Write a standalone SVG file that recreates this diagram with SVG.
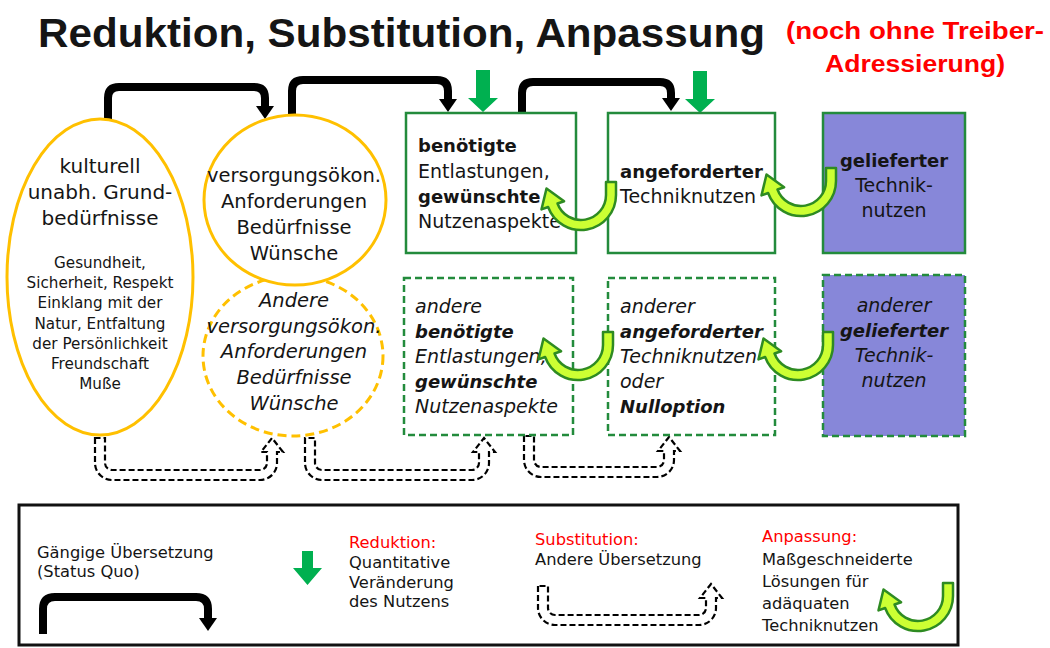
<svg xmlns="http://www.w3.org/2000/svg" width="1050" height="648" viewBox="0 0 1050 648">
<style>
text{font-family:"DejaVu Sans","Noto Sans",sans-serif;fill:#151515}
.t18{font-size:18px}
.t19{font-size:19px}
.t195{font-size:19.5px}
.t20{font-size:20px}
.t15{font-size:15.2px}
.t16{font-size:16.3px}
.b{font-weight:bold;font-size:18px}
.i{font-style:italic}
.c{text-anchor:middle}
.ell{fill:#fff;stroke:#ffc000;stroke-width:3}
.dash{stroke-dasharray:9 5}
.box{fill:#fff;stroke:#238b3c;stroke-width:2.5}
.pur{fill:#8787d9}
.bdash{stroke-dasharray:7 4}
.blk{fill:none;stroke:#000;stroke-width:8;stroke-linejoin:round}
.sub{fill:none;stroke:#000;stroke-width:2.2;stroke-dasharray:6 3}
.grn{fill:#00b050}
.uturn{fill:#ccff33;stroke:#2e8b22;stroke-width:2.5;stroke-linejoin:round}
</style>
<defs>
<marker id="ah" viewBox="0 -10 14 20" refX="1" refY="0" markerWidth="14" markerHeight="20" markerUnits="userSpaceOnUse" orient="auto">
<path d="M0,-9 L13,0 L0,9 Z" fill="#000"/>
</marker>
<path id="uarrow" d="M35,-13 L35,0 A35,35 0 0 1 -32.89,11.97 L-39.5,14.4 L-34.5,-6.5 L-16.9,6.2 L-23.49,8.55 A25,25 0 0 0 25,0 L25,-13 Z"/>
<path id="garrow" d="M-7,0 H7 V28 H15 L0,42 L-15,28 H-7 Z"/>
</defs>

<text x="38" y="47" font-size="41" font-weight="bold" textLength="727" lengthAdjust="spacingAndGlyphs" style="font-family:'Liberation Sans',sans-serif">Reduktion, Substitution, Anpassung</text>
<text x="915" y="39" class="c" font-size="23" font-weight="bold" textLength="258" lengthAdjust="spacingAndGlyphs" style="font-family:'Liberation Sans',sans-serif;fill:#ff0000">(noch ohne Treiber-</text>
<text x="915" y="72" class="c" font-size="23" font-weight="bold" textLength="180" lengthAdjust="spacingAndGlyphs" style="font-family:'Liberation Sans',sans-serif;fill:#ff0000">Adressierung)</text>

<g id="connectors">
<path class="blk" d="M108,122 V98 Q108,87 119,87 H254 Q265,87 265,98 V107" marker-end="url(#ah)"/>
<path class="blk" d="M292,117 V91 Q292,80 303,80 H437 Q448,80 448,91 V100" marker-end="url(#ah)"/>
<path class="blk" d="M522,114 V93 Q522,82 533,82 H660 Q671,82 671,93 V99" marker-end="url(#ah)"/>
<use href="#garrow" class="grn" x="483" y="70"/>
<use href="#garrow" class="grn" x="700" y="71"/>
<path class="sub" d="M95,438 V463 A17,17 0 0 0 112,480 H260 A17,17 0 0 0 277,463 V452 H283 L272,438 L261,452 H267 V463 A7,7 0 0 1 260,470 H112 A7,7 0 0 1 105,463 V438 Z"/>
<path class="sub" d="M305,438 V463 A17,17 0 0 0 322,480 H472 A17,17 0 0 0 489,463 V452 H495 L484,438 L473,452 H479 V463 A7,7 0 0 1 472,470 H322 A7,7 0 0 1 315,463 V438 Z"/>
<path class="sub" d="M524,436 V460 A17,17 0 0 0 541,477 H657 A17,17 0 0 0 674,460 V451 H680 L669,437 L658,451 H664 V460 A7,7 0 0 1 657,467 H541 A7,7 0 0 1 534,460 V436 Z"/>
</g>

<g id="n1">
<ellipse class="ell" cx="100" cy="277" rx="93" ry="158"/>
<text class="t20 c" x="100" y="173">kulturell</text>
<text class="t20 c" x="100" y="199">unabh. Grund-</text>
<text class="t20 c" x="100" y="225">bedürfnisse</text>
<text class="t15 c" x="100" y="268">Gesundheit,</text>
<text class="t15 c" x="100" y="288">Sicherheit, Respekt</text>
<text class="t15 c" x="100" y="308">Einklang mit der</text>
<text class="t15 c" x="100" y="329">Natur, Entfaltung</text>
<text class="t15 c" x="100" y="349">der Persönlichkeit</text>
<text class="t15 c" x="100" y="369">Freundschaft</text>
<text class="t15 c" x="100" y="389">Muße</text>
</g>

<g id="n3">
<ellipse class="ell dash" cx="293" cy="356" rx="90" ry="80"/>
<text class="t195 c i" x="294" y="307">Andere</text>
<text class="t195 c i" x="294" y="333">versorgungsökon.</text>
<text class="t195 c i" x="294" y="358">Anforderungen</text>
<text class="t195 c i" x="294" y="384">Bedürfnisse</text>
<text class="t195 c i" x="294" y="410">Wünsche</text>
</g>

<g id="n2">
<ellipse class="ell" cx="295" cy="200" rx="91" ry="85"/>
<text class="t195 c" x="294" y="182">versorgungsökon.</text>
<text class="t195 c" x="294" y="208">Anforderungen</text>
<text class="t195 c" x="294" y="234">Bedürfnisse</text>
<text class="t195 c" x="294" y="260">Wünsche</text>
</g>

<g id="n4">
<rect class="box" x="406" y="113" width="170" height="140"/>
<text class="b" x="418" y="152">benötigte</text>
<text class="t19" x="418" y="178">Entlastungen,</text>
<text class="b" x="418" y="203">gewünschte</text>
<text class="t19" x="418" y="228">Nutzenaspekte</text>
</g>

<g id="n5">
<rect class="box" x="608" y="113" width="167" height="140"/>
<text class="b" x="620" y="178">angeforderter</text>
<text class="t19" x="620" y="203">Techniknutzen</text>
</g>

<g id="n6">
<rect class="box pur" x="823" y="113" width="142" height="140"/>
<text class="b c" x="894" y="167">gelieferter</text>
<text class="t19 c" x="894" y="192">Technik-</text>
<text class="t19 c" x="894" y="217">nutzen</text>
</g>

<g id="n7">
<rect class="box bdash" x="404" y="278" width="169" height="157"/>
<text class="t19 i" x="415" y="313">andere</text>
<text class="i b" x="415" y="338">benötigte</text>
<text class="t19 i" x="415" y="363">Entlastungen,</text>
<text class="i b" x="415" y="388">gewünschte</text>
<text class="t19 i" x="415" y="413">Nutzenaspekte</text>
</g>

<g id="n8">
<rect class="box bdash" x="608" y="278" width="167" height="157"/>
<text class="t19 i" x="620" y="313">anderer</text>
<text class="i b" x="620" y="338">angeforderter</text>
<text class="t19 i" x="620" y="363">Techniknutzen</text>
<text class="t19 i" x="620" y="388">oder</text>
<text class="i b" x="620" y="413">Nulloption</text>
</g>

<g id="n9">
<rect class="box pur bdash" x="823" y="275" width="142" height="161"/>
<text class="t19 i c" x="894" y="312">anderer</text>
<text class="i b c" x="894" y="337">gelieferter</text>
<text class="t19 i c" x="894" y="362">Technik-</text>
<text class="t19 i c" x="894" y="387">nutzen</text>
</g>

<g id="uturns">
<use href="#uarrow" class="uturn" x="581" y="195"/>
<use href="#uarrow" class="uturn" x="801" y="181"/>
<use href="#uarrow" class="uturn" x="578" y="345"/>
<use href="#uarrow" class="uturn" x="798" y="345"/>
</g>

<g id="legend">
<rect x="19" y="505" width="939" height="140" fill="none" stroke="#111" stroke-width="3"/>
<text class="t16" x="37" y="558">Gängige Übersetzung</text>
<text class="t16" x="37" y="577">(Status Quo)</text>
<path class="blk" d="M43,634 V609 Q43,597 55,597 H196 Q208,597 208,609 V619" marker-end="url(#ah)"/>
<path class="grn" d="M302,551 H313 V568 H322 L307.5,585 L293,568 H302 Z"/>
<text class="t16" x="349" y="548" style="fill:#ff0000">Reduktion:</text>
<text class="t16" x="349" y="568">Quantitative</text>
<text class="t16" x="349" y="588">Veränderung</text>
<text class="t16" x="349" y="607">des Nutzens</text>
<text class="t16" x="535" y="545" style="fill:#ff0000">Substitution:</text>
<text class="t16" x="535" y="565">Andere Übersetzung</text>
<path class="sub" d="M538,586 V608 A17,17 0 0 0 555,625 H699 A17,17 0 0 0 716,608 V598 H722 L711,584 L700,598 H706 V608 A7,7 0 0 1 699,615 H555 A7,7 0 0 1 548,608 V586 Z"/>
<text class="t16" x="762" y="542" style="fill:#ff0000">Anpassung:</text>
<text class="t16" x="762" y="565">Maßgeschneiderte</text>
<text class="t16" x="762" y="587">Lösungen für</text>
<text class="t16" x="762" y="609">adäquaten</text>
<text class="t16" x="762" y="631">Techniknutzen</text>
<use href="#uarrow" class="uturn" x="918" y="596"/>
</g>
</svg>
